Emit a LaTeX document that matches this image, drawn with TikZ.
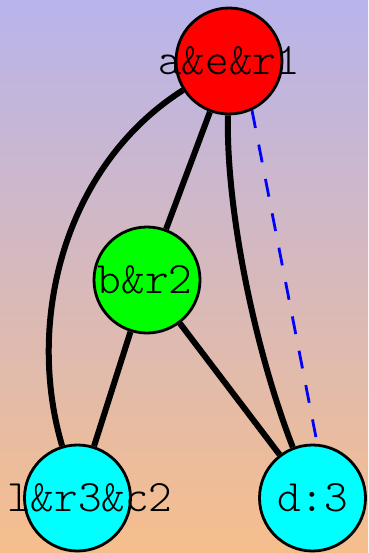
\documentclass[tikz,border=0pt]{standalone}
\usepackage{fontspec}
\newfontfamily\monof{Latin Modern Mono Light}
\definecolor{bgtop}{HTML}{B8B4EC}
\definecolor{bgbot}{HTML}{F6BE8C}
\definecolor{cyanfill}{HTML}{00FFFF}
\definecolor{greenfill}{HTML}{00FF00}
\definecolor{redfill}{HTML}{FF0000}
\definecolor{dashblue}{HTML}{0000FF}
\pgfdeclarelayer{edgelayer}
\pgfdeclarelayer{bglayer}
\pgfsetlayers{bglayer,edgelayer,main}
\begin{document}
\begin{tikzpicture}[x=1pt,y=1pt,
  vert/.style={circle,draw=black,line width=2.8pt,minimum size=106pt,inner sep=0pt},
  lbl/.style={font=\monof\fontsize{45}{54}\selectfont,inner sep=0pt,text=black},
  edge/.style={draw=black,line width=6pt},
  dedge/.style={draw=dashblue,line width=2.8pt,dash pattern=on 18pt off 17pt}]
\useasboundingbox (0,0) rectangle (368,-553);
\begin{pgfonlayer}{bglayer}
\shade[top color=bgtop,bottom color=bgbot] (0,0) rectangle (368,-553);
\end{pgfonlayer}
% nodes
\node[vert,fill=redfill] (a) at (229,-61) {};
\node[vert,fill=greenfill] (b) at (147,-280) {};
\node[vert,fill=cyanfill] (l) at (77.5,-498) {};
\node[vert,fill=cyanfill] (d) at (312.5,-498) {};
% labels
\node[lbl] (ta) at (a) {a\&e\&r1};
\node[lbl] (tb) at (145,-280) {b\&r2};
\node[lbl,anchor=west] (tl) at (7,-498) {l\&r3\&c2};
\node[lbl] (td) at (d) {d:3};
% edges
\begin{pgfonlayer}{edgelayer}
\path[edge] (a) .. controls (65,-165) and (25,-320) .. (l);
\path[edge] (a) -- (b);
\path[edge] (a) .. controls (226,-210) and (255,-350) .. (d);
\path[edge] (b) -- (l);
\path[edge] (b) -- (d);
\path[dedge] (a.-65) -- (d.85);
\end{pgfonlayer}
\end{tikzpicture}
\end{document}
